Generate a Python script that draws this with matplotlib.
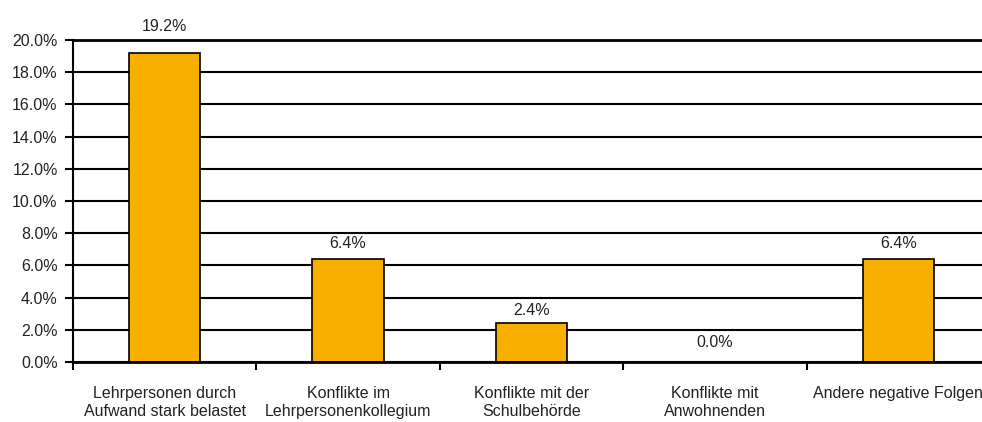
import numpy as np
import matplotlib.pyplot as plt
from matplotlib.ticker import FuncFormatter, FixedLocator

plt.rcParams['font.family'] = ['Liberation Sans', 'DejaVu Sans']

categories = ['Lehrpersonen durch\nAufwand stark belastet',
              'Konflikte im\nLehrpersonenkollegium',
              'Konflikte mit der\nSchulbehörde',
              'Konflikte mit\nAnwohnenden',
              'Andere negative Folgen']
values = [19.2, 6.4, 2.4, 0.0, 6.4]
value_labels = ['19.2%', '6.4%', '2.4%', '0.0%', '6.4%']

fig = plt.figure(figsize=(9.82, 4.22), dpi=100)
W, H = 982, 422
left, right, top, bottom = 73, 990, 40, 362
ax = fig.add_axes([left / W, 1 - bottom / H, (right - left) / W, (bottom - top) / H])

x = np.arange(len(categories))
ax.bar(x, values, width=0.39, color='#F8B000', edgecolor='black', linewidth=1.2, zorder=3)

# excel puts the labels at slightly different heights
label_offsets = [19, 8, 5, 12, 8]
for xi, v, lab, off in zip(x, values, value_labels, label_offsets):
    ax.annotate(lab, (xi, v), xytext=(0, off), textcoords='offset pixels',
                ha='center', va='bottom', fontsize=11.5, color='#222222',
                annotation_clip=False)

ax.set_xlim(-0.5, len(categories) - 0.5)
ax.set_ylim(0, 20)
ax.set_yticks(np.arange(0, 21, 2))
ax.yaxis.set_major_formatter(FuncFormatter(lambda v, p: f'{v:.1f}%'))
ax.grid(axis='y', color='black', linewidth=1.5, zorder=0)

ax.set_xticks(x)
ax.set_xticklabels(categories, fontsize=11.5, color='#222222', linespacing=1.3)
ax.xaxis.set_minor_locator(FixedLocator(np.arange(-0.5, len(categories), 1)))
ax.tick_params(axis='x', which='major', length=0, pad=17)
ax.tick_params(axis='x', which='minor', length=6, width=1.5, direction='out')
ax.tick_params(axis='y', length=6, width=1.5, labelsize=11.5, labelcolor='#222222', pad=5)

ax.spines['right'].set_visible(False)
ax.spines['top'].set_linewidth(2)
ax.spines['left'].set_linewidth(1.5)
ax.spines['bottom'].set_linewidth(2)
ax.spines['left'].set_zorder(4)
ax.spines['bottom'].set_zorder(4)

fig.savefig('out.png', dpi=100)
